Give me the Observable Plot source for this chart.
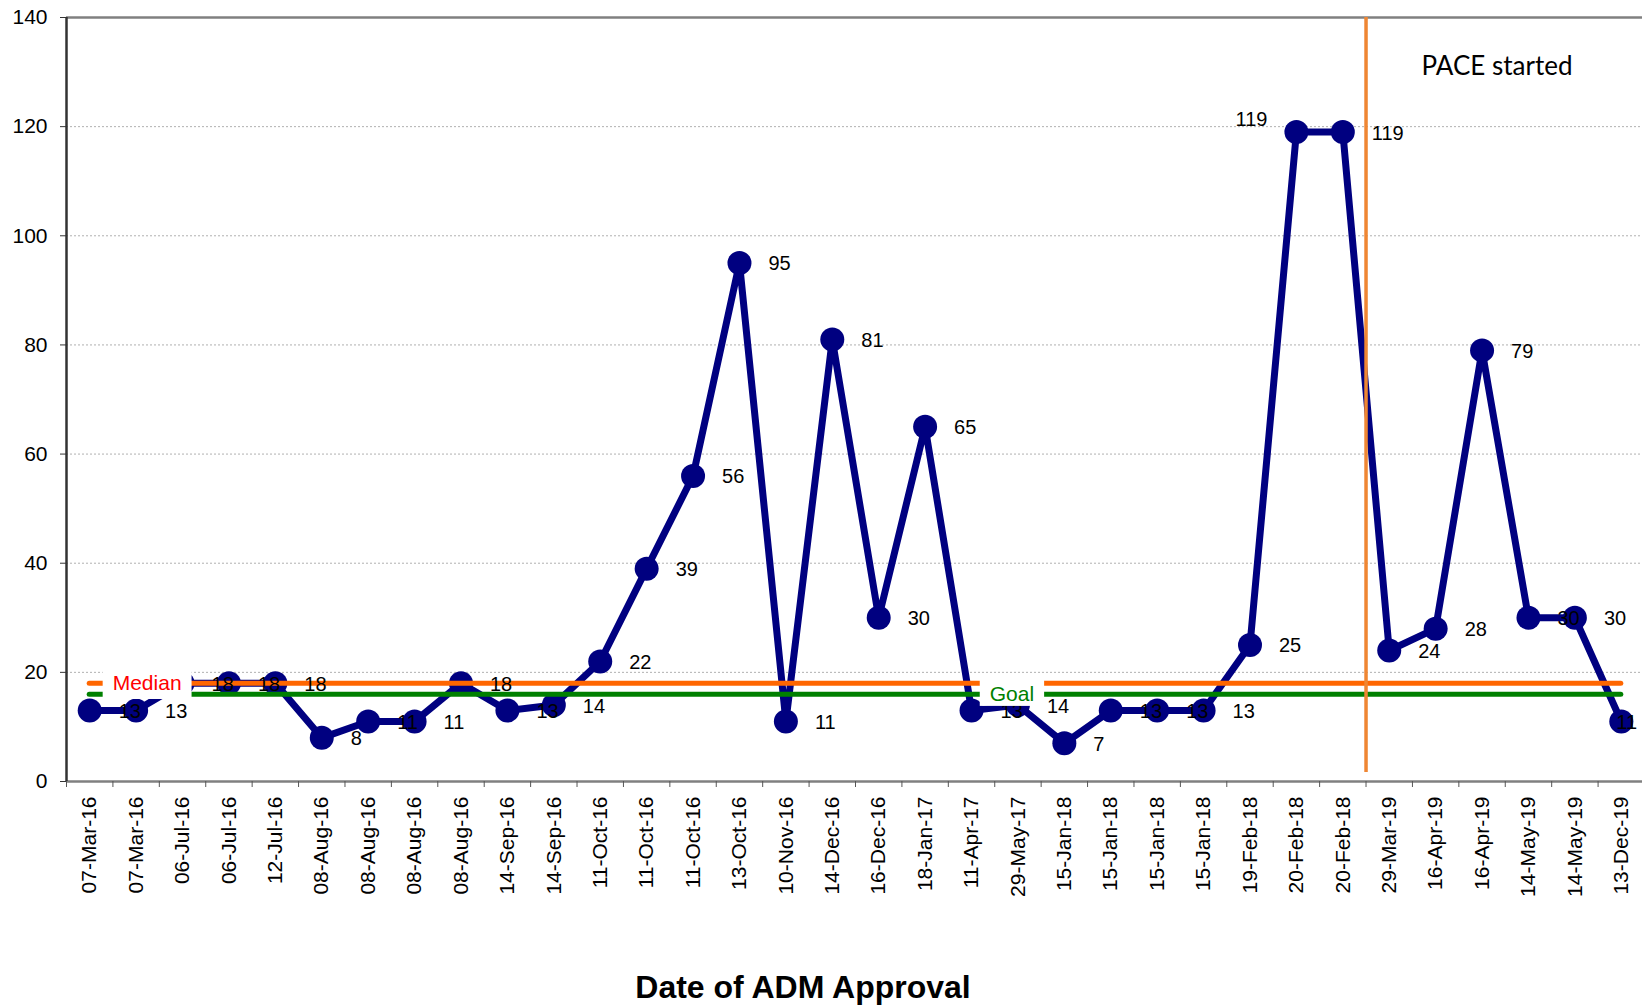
<!DOCTYPE html>
<html>
<head>
<meta charset="utf-8">
<script src="https://cdn.jsdelivr.net/npm/d3@7"></script>
<script src="https://cdn.jsdelivr.net/npm/@observablehq/plot@0.6"></script>
<style>
  html, body { margin: 0; padding: 0; background: #fff; }
  body { font-family: "Liberation Sans", Arial, sans-serif; }
  #chart { position: relative; width: 1642px; height: 1006px; overflow: hidden; }
  #title { position: absolute; left: 0; width: 1606px; top: 972px; text-align: center;
           font-weight: bold; font-size: 32px; line-height: 30px; color: #000; }
</style>
</head>
<body>
<div id="chart"><div id="title">Date of ADM Approval</div></div>
<script>
// ---- data ----
const dates = ["07-Mar-16","07-Mar-16","06-Jul-16","06-Jul-16","12-Jul-16","08-Aug-16","08-Aug-16","08-Aug-16","08-Aug-16","14-Sep-16","14-Sep-16","11-Oct-16","11-Oct-16","11-Oct-16","13-Oct-16","10-Nov-16","14-Dec-16","16-Dec-16","18-Jan-17","11-Apr-17","29-May-17","15-Jan-18","15-Jan-18","15-Jan-18","15-Jan-18","19-Feb-18","20-Feb-18","20-Feb-18","29-Mar-19","16-Apr-19","16-Apr-19","14-May-19","14-May-19","13-Dec-19"];
const values = [13,13,18,18,18,8,11,11,18,13,14,22,39,56,95,11,81,30,65,13,14,7,13,13,13,25,119,119,24,28,79,30,30,11];
const medianValue = 18;
const goalValue = 16;
const paceStartIndex = 28;            // first category after PACE started
const paceLabel = "PACE started";
const yTicks = [0,20,40,60,80,100,120,140];
const gridValues = [20,40,60,80,100,120];

// ---- build ----
const data = dates.map((d, i) => ({i, x: i + 0.5, date: d, value: values[i]}));
const n = data.length;
const first = data[0], last = data[n - 1];
const leftLabelIdx = 26;   // label placed to the left
const edgeLabelIdx = n - 1; // label squeezed at the right edge

const W = 1642, H = 960;
const navy = "#000080";

const svg = Plot.plot({
  width: W,
  height: H,
  marginLeft: 66,
  marginRight: 0,
  marginTop: 17,
  marginBottom: H - 781,
  style: {fontFamily: '"Liberation Sans", Arial, sans-serif', color: "#000", background: "#fff", overflow: "visible"},
  x: {domain: [0, n], range: [66, W + 2]},
  y: {domain: [0, 140]},
  marks: [
    // gridlines
    Plot.ruleY(gridValues, {stroke: "#b0b0b0", strokeWidth: 1, strokeDasharray: "2,2"}),
    // top border at 140
    Plot.ruleY([140], {stroke: "#808080", strokeWidth: 2.5}),
    // series line and markers
    Plot.line(data, {x: "x", y: "value", stroke: navy, strokeWidth: 7, strokeLinejoin: "round"}),
    Plot.dot(data, {x: "x", y: "value", r: 12, fill: navy, stroke: "none"}),
    // median and goal lines
    Plot.ruleY([medianValue], {x1: first.x, x2: last.x, stroke: "#FF6600", strokeWidth: 5, strokeLinecap: "round"}),
    Plot.ruleY([goalValue], {x1: first.x, x2: last.x, stroke: "#008000", strokeWidth: 5, strokeLinecap: "round"}),
    // PACE started line
    Plot.ruleX([paceStartIndex], {y1: 140, y2: 0, insetBottom: 9, stroke: "#EF8633", strokeWidth: 3.5}),
    Plot.text([paceLabel], {x: paceStartIndex, y: 140, text: d => d, dx: 131, dy: 49,
      fontSize: 26, fill: "#000", fontFamily: "Lato, 'Liberation Sans', sans-serif"}),
    // axes lines
    Plot.ruleY([0], {stroke: "#808080", strokeWidth: 2.5}),
    Plot.ruleX([0], {y1: 0, y2: 140, stroke: "#333", strokeWidth: 2.5}),
    Plot.axisY(yTicks, {label: null, tickSize: 6, tickPadding: 13, fontSize: 21, stroke: "#333", fill: "#000"}),
    Plot.axisX(d3.range(0, n + 1), {label: null, tickSize: 6, tickFormat: () => "", stroke: "#555"}),
    Plot.axisX(data.map(d => d.x), {label: null, tickSize: 0, tickPadding: 15, tickRotate: -90, fontSize: 21, fill: "#000",
      tickFormat: v => dates[Math.floor(v)]}),
    // data labels
    Plot.text(data.filter(d => d.i !== leftLabelIdx && d.i !== edgeLabelIdx),
      {x: "x", y: "value", text: d => String(d.value), textAnchor: "start", dx: 29, dy: 1, fontSize: 20, fill: "#000"}),
    Plot.text(data.filter(d => d.i === leftLabelIdx),
      {x: "x", y: "value", text: d => String(d.value), textAnchor: "end", dx: -29, dy: -13, fontSize: 20, fill: "#000"}),
    Plot.text(data.filter(d => d.i === edgeLabelIdx),
      {x: "x", y: "value", text: d => String(d.value), textAnchor: "start", dx: -5, dy: 1, fontSize: 20, fill: "#000"}),
    // series name labels (white boxes added below)
    Plot.text(["Median"], {x: data[1].x, y: medianValue, text: d => d, dx: 11, fontSize: 21, fill: "#FF0000", className: "series-name-median"}),
    Plot.text(["Goal"], {x: data[20].x, y: goalValue, text: d => d, dx: -6, fontSize: 21, fill: "#008000", className: "series-name-goal"})
  ]
});

document.getElementById("chart").prepend(svg);

// white boxes behind the series name labels
function boxBehind(selector, padTop, padBottom) {
  d3.select(svg).selectAll(selector + " text").each(function () {
    const b = this.getBBox();
    const padX = 10;
    d3.select(this.parentNode).insert("rect", () => this)
      .attr("x", b.x - padX).attr("y", b.y - padTop)
      .attr("width", b.width + 2 * padX).attr("height", b.height + padTop + padBottom)
      .attr("fill", "#fff")
      .attr("transform", this.getAttribute("transform"));
  });
}
boxBehind("g.series-name-median", 0, 5);
boxBehind("g.series-name-goal", 3, 1);
</script>
</body>
</html>
